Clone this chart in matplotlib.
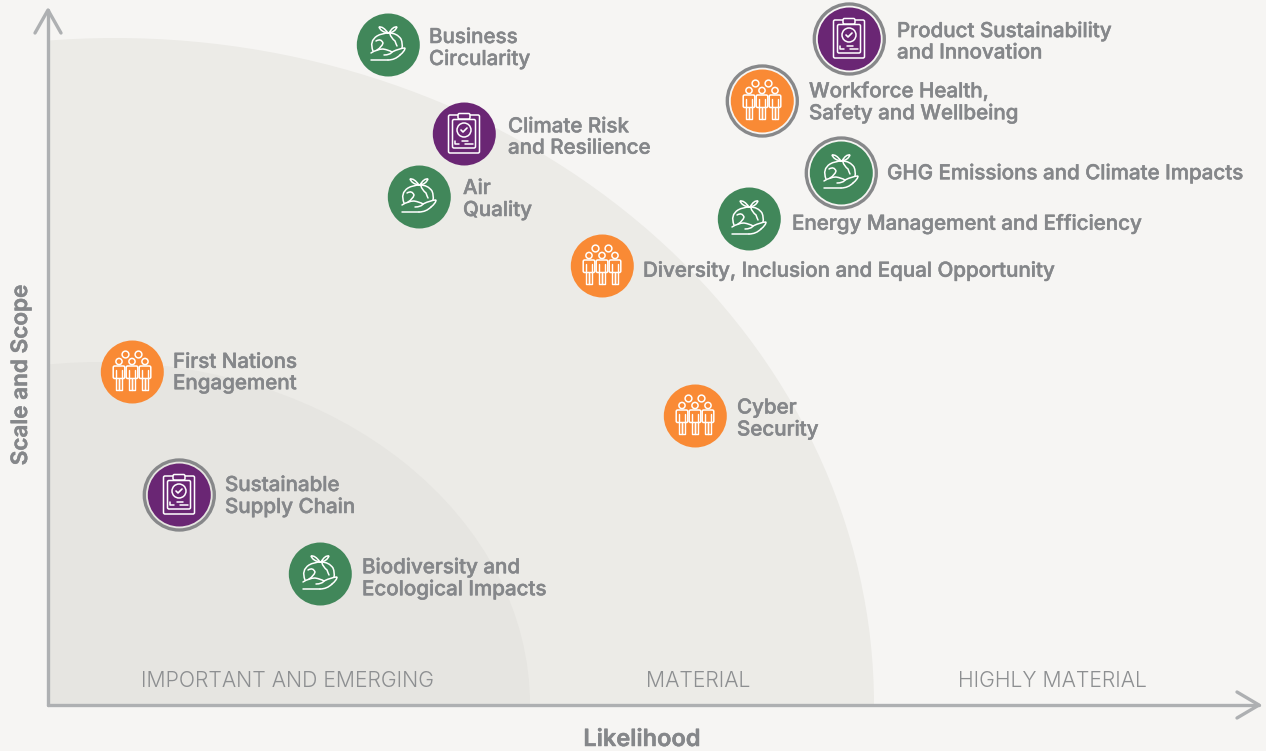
import matplotlib
matplotlib.use("Agg")
import matplotlib.pyplot as plt
import matplotlib.patheffects as pe
from matplotlib.patches import Ellipse, Circle, FancyBboxPatch, Rectangle, PathPatch
from matplotlib.path import Path

# Positions: px from the axis origin
topics = ["Business\nCircularity", "Climate Risk\nand Resilience", "Air\nQuality",
          "Product Sustainability\nand Innovation", "Workforce Health,\nSafety and Wellbeing",
          "GHG Emissions and Climate Impacts", "Energy Management and Efficiency",
          "Diversity, Inclusion and Equal Opportunity", "First Nations\nEngagement",
          "Cyber\nSecurity", "Sustainable\nSupply Chain", "Biodiversity and\nEcological Impacts"]
likelihood = [340, 416, 371, 801, 714, 793, 701, 554, 84, 647, 131, 272]
scale = [660, 571, 508, 666, 604, 532, 486, 439, 333, 289, 210, 131]
kinds = ["env", "gov", "env", "gov", "soc", "env", "env", "soc", "soc", "soc", "gov", "env"]
ringed = [False, False, False, True, True, True, False, False, False, False, True, False]
label_dx = [41, 44, 44, 48, 47, 46, 43, 41, 41, 42, 46, 42]
label_dy = [4, 4, 3, 3.5, 2, 1, 5.5, 5.5, 1.5, 3.5, 2, 5]
zones = ["IMPORTANT AND EMERGING", "MATERIAL", "HIGHLY MATERIAL"]
zone_x = [239.5, 650.5, 1004.5]
x_title = "Likelihood"
y_title = "Scale and Scope"

BG = "#f6f5f3"; OUTER = "#ecebe7"; INNER = "#e6e5e1"
AXC = "#aeb0b2"; TXT = "#85878a"; ZONE = "#8d8f91"
COL = {"env": "#41875a", "gov": "#6a2674", "soc": "#f98a35"}
plt.rcParams["font.family"] = ["Inter", "DejaVu Sans"]

fig = plt.figure(figsize=(12.66, 7.51), dpi=100, facecolor=BG)
ax = fig.add_axes([0, 0, 1, 1])
ax.set_xlim(-48, 1218); ax.set_ylim(-46, 705); ax.axis("off")

clip = Rectangle((0, 0), 1200, 700, transform=ax.transData)
e1 = Ellipse((67, 0), 2 * 759, 2 * 667, fc=OUTER, ec="none", zorder=1)
e2 = Ellipse((52, 0), 2 * 430, 2 * 343, fc=INNER, ec="none", zorder=2)
for e in (e1, e2):
    ax.add_patch(e); e.set_clip_path(clip)

kw = dict(color=AXC, lw=2.4, solid_capstyle="round", solid_joinstyle="round", zorder=3)
ax.plot([0, 0], [0, 695], **kw)
ax.plot([-13, 0, 13], [672, 695, 672], **kw)
ax.plot([0, 1211], [0, 0], **kw)
ax.plot([1189, 1211, 1189], [13, 0, -13], **kw)


# icon helpers: offsets are in px from the badge centre, y pointing down the screen
def line(x, y, pts, lw=1.1):
    ax.plot([x + p[0] for p in pts], [y - p[1] for p in pts], color="white", lw=lw,
            solid_capstyle="round", solid_joinstyle="round", zorder=7)


def rrect(x, y, x0, y0, x1, y1, lw=1.1, fc="none", z=7):
    ax.add_patch(FancyBboxPatch((x + x0, y - y1), x1 - x0, y1 - y0,
                                boxstyle="round,pad=0,rounding_size=1.5",
                                fc=fc, ec="white", lw=lw, zorder=z))


def ring(x, y, dx, dy, r, lw=1.1, fc="none", z=8):
    ax.add_patch(Circle((x + dx, y - dy), r, fc=fc, ec="white", lw=lw, zorder=z))


def curve(x, y, pts, lw=1.1):
    codes = [Path.MOVETO] + [Path.CURVE3] * (len(pts) - 1)
    ax.add_patch(PathPatch(Path([(x + p[0], y - p[1]) for p in pts], codes), fc="none", ec="white",
                           lw=lw, capstyle="round", zorder=7))


def icon_gov(x, y, c):
    rrect(x, y, -15.5, -19, 15.5, 19)
    rrect(x, y, -11.5, -14.5, 11.5, 14)
    rrect(x, y, -6, -20.5, 6, -15, fc=c, z=8)
    ring(x, y, 0, -4, 7)
    line(x, y, [(-3, -4), (-1, -2), (3, -6)], lw=1.2)
    line(x, y, [(-9, 7), (-9, 10), (-5, 10)])
    line(x, y, [(-2, 7), (4, 7)])
    line(x, y, [(1, 10), (9, 10)])


def icon_soc(x, y, c):
    for dx in (-6.5, 6.5):
        ring(x, y, dx, -17.5, 3.4)
    for dx in (-13, 0, 13):
        ring(x, y, dx, -10.5, 3.1)
        rrect(x + dx, y, -5.8, -6, 5.8, 6.5, fc=c, z=7)
        line(x + dx, y, [(-3.2, -2), (-3.2, 18), (-0.3, 18), (-0.3, 7)], lw=1.0)
        line(x + dx, y, [(3.2, -2), (3.2, 18), (0.3, 18), (0.3, 7)], lw=1.0)


def icon_env(x, y, c):
    curve(x, y, [(-15, 6), (-19, -4), (-11, -9), (-6, -12), (1, -12)])
    curve(x, y, [(1, -12), (9, -12), (13, -6), (15, -1), (14, 3)])
    curve(x, y, [(2, -11), (3, -7), (7, -4), (8, -1), (9, 1)])
    curve(x, y, [(-12, -4), (-7, -7), (-5, -2), (-6, 2), (-11, 5)])
    curve(x, y, [(0, -12), (-5, -19), (-9, -18), (-7, -13), (0, -12)])
    curve(x, y, [(1, -12), (5, -19), (9, -18), (7, -13), (1, -12)])
    curve(x, y, [(-17, 8), (-11, 4), (-5, 4), (1, 5), (4, 7)])
    curve(x, y, [(4, 7), (2, 10), (-4, 10)])
    curve(x, y, [(4, 7), (12, 3), (17, 3), (17, 6), (12, 10)])
    curve(x, y, [(12, 10), (7, 15), (0, 15)])
    line(x, y, [(-17, 15), (0, 15)])


icons = {"env": icon_env, "gov": icon_gov, "soc": icon_soc}
bold = [pe.withStroke(linewidth=0.35, foreground=TXT)]
for name, lx, ly, k, rg, dx, dy in zip(topics, likelihood, scale, kinds, ringed, label_dx, label_dy):
    ax.add_patch(Circle((lx + 0.3, ly), 31.5, fc=COL[k], ec="none", zorder=6))
    if rg:
        ax.add_patch(Circle((lx + 0.3, ly), 35, fc="none", ec="#87888a", lw=2.4, zorder=6))
    icons[k](lx, ly, COL[k])
    ax.text(lx + dx, ly - dy, name, fontsize=14.8, fontweight=500, color=TXT, va="center", ha="left",
            linespacing=1.24, zorder=9, path_effects=bold)

for z, zx in zip(zones, zone_x):
    ax.text(zx, 24, z, fontsize=15.3, color=ZONE, ha="center", va="center", fontweight=300, zorder=9)
ax.text(594, -35, x_title, fontsize=17, fontweight=600, color=TXT, ha="center", va="center", path_effects=bold)
ax.text(-27, 330, y_title, fontsize=16.2, fontweight=600, color=TXT, ha="center", va="center", rotation=90,
        path_effects=bold)

fig.savefig("out.png", dpi=100, facecolor=BG)
